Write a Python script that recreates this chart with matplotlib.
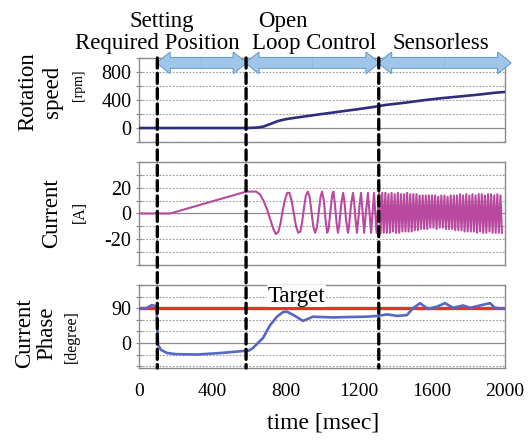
import matplotlib
matplotlib.use("Agg")
import matplotlib.pyplot as plt
from matplotlib.patches import FancyArrowPatch, ConnectionPatch

plt.rcParams['font.family'] = ['Liberation Serif', 'DejaVu Serif']

######################################################################
# DATA

# boundaries between the three control stages [msec]
stage_edges = [100, 585, 1310]
stage_spans = [(100, 585), (585, 1310), (1310, 2030)]

# rotation speed [rpm]
speed_t = [0, 585, 640, 680, 720, 760, 800, 850, 1000, 1100, 1200, 1280,
           1350, 1450, 1550, 1650, 1750, 1850, 1950, 2000]
speed_v = [0, 0, 5, 20, 60, 100, 125, 145, 200, 235, 270, 300,
           330, 360, 395, 425, 450, 475, 505, 515]

# current [A], start-up + open loop part
current_t = [0, 170, 561, 590, 640, 660, 680, 700, 718, 734, 748, 762,
             774, 786, 798, 810, 822, 834, 846, 858, 870, 882, 892, 902,
             912, 922, 932, 942, 952, 962, 972, 982, 992, 1000, 1010, 1020,
             1028, 1036, 1046, 1056, 1062, 1070, 1080, 1087, 1094, 1104, 1115,
             1122, 1132, 1142, 1148, 1158, 1169, 1176, 1184, 1191, 1200, 1206,
             1213, 1222, 1230, 1240, 1251, 1260, 1268, 1276, 1284, 1291, 1298]
current_i = [0, 0, 16, 17, 17, 15, 10, 3, -5, -12, -16, -14,
             -7, 3, 11, 16, 16, 10, 0, -10, -15, -14, -6, 5,
             14, 17, 13, 2, -10, -15, -11, 1, 13, 17, 10, -6,
             -15, -12, 2, 15, 17, 8, -8, -15, -9, 6, 16,
             10, -6, -15, -9, 6, 16, 8, -6, -15, -2, 8,
             16, 1, -15, 1, 16, 0, -15, 1, 16, 0, -15]

# current [A], sensorless part (peaks / troughs)
sensorless_t = [1312, 1320, 1329, 1337, 1346, 1354, 1363, 1371, 1380, 1388,
                1397, 1405, 1414, 1422, 1431, 1439, 1448, 1456, 1465, 1473,
                1482, 1490, 1499, 1507, 1516, 1524, 1533, 1541, 1550, 1558,
                1567, 1575, 1584, 1592, 1601, 1609, 1618, 1626, 1635, 1643,
                1652, 1660, 1669, 1677, 1686, 1694, 1703, 1711, 1720, 1728,
                1737, 1745, 1754, 1762, 1771, 1779, 1788, 1796, 1805, 1813,
                1822, 1830, 1839, 1847, 1856, 1864, 1873, 1881, 1890, 1898,
                1907, 1915, 1924, 1932, 1941, 1949, 1958, 1966, 1975, 1983]
sensorless_i = [16, -15, 16, -15, 16, -15, 15, -15, 16, -14,
                15, -15, 16, -15, 15, -14, 15, -14, 16, -14,
                15, -14, 15, -13, 15, -13, 14, -12, 14, -12,
                14, -12, 14, -11, 14, -11, 14, -12, 13, -11,
                14, -11, 14, -12, 13, -12, 14, -12, 14, -13,
                14, -13, 15, -13, 14, -14, 15, -14, 14, -14,
                15, -14, 14, -15, 15, -14, 15, -15, 14, -15,
                15, -14, 15, -15, 14, -15, 15, -15, 14, -15]

# current phase [degree]
phase_t = [0, 40, 70, 95, 104, 120, 153, 200, 317, 450, 568, 600, 623, 650,
           678, 716, 754, 787, 808, 852, 896, 951, 1005, 1060, 1137, 1246,
           1306, 1355, 1410, 1464, 1497, 1536, 1579, 1628, 1672, 1716, 1771,
           1809, 1863, 1918, 1945, 2000]
phase_deg = [88, 90, 98, 95, -5, -18, -26, -29, -30, -26, -21, -20, -13, 0,
             13, 46, 68, 80, 81, 70, 57, 68, 67, 66, 67, 68,
             70, 74, 70, 72, 90, 103, 88, 94, 103, 91, 97,
             91, 97, 103, 91, 88]
target_deg = 90

# axis grids and labels
speed_grid = [-200, 0, 200, 400, 600, 800, 1000]
speed_labels = ['', '0', '', '400', '', '800', '']
current_grid = [-40, -30, -20, -10, 0, 10, 20, 30, 40]
current_labels = ['', '', '-20', '', '0', '', '20', '', '']
phase_grid = [-60, -30, 0, 30, 60, 90, 120, 150]
phase_labels = ['', '', '0', '', '', '90', '', '']
time_ticks = [0, 400, 800, 1200, 1600, 2000]

######################################################################
# STYLE

C_SPEED = '#2e2d7f'
C_CURRENT = '#b9489f'
C_PHASE = '#5866c4'
C_TARGET = '#e5322b'
C_ARROW = '#9fc5e8'
C_ARROW_EDGE = '#5e97d0'
C_FRAME = '#8a8a8a'

fig = plt.figure(figsize=(5.31, 4.45), dpi=100)
ax_s = fig.add_axes([0.2618, 0.6809, 0.6893, 0.1888])
ax_c = fig.add_axes([0.2618, 0.4045, 0.6893, 0.2315])
ax_p = fig.add_axes([0.2618, 0.1730, 0.6893, 0.1865])


def style_panel(ax, ylim, grid, labels):
    ax.set_xlim(0, 2000)
    ax.set_ylim(*ylim)
    for g in grid:
        if g == 0:
            ax.axhline(g, color='#8c8c8c', lw=0.9, zorder=1)
        else:
            ax.axhline(g, color='#9a9a9a', lw=0.8, ls=(0, (1.5, 1.5)), zorder=1)
    ax.set_yticks(grid)
    ax.set_yticklabels(labels)
    ax.tick_params(axis='y', direction='inout', length=5, width=0.8,
                   color=C_FRAME, labelsize=14.5, pad=3)
    ax.tick_params(axis='x', length=0, labelbottom=False)
    for sp in ax.spines.values():
        sp.set_color(C_FRAME)
        sp.set_linewidth(1.0)


style_panel(ax_s, (-200, 1000), speed_grid, speed_labels)
style_panel(ax_c, (-40, 40), current_grid, current_labels)
style_panel(ax_p, (-65, 150), phase_grid, phase_labels)

ax_s.plot(speed_t, speed_v, color=C_SPEED, lw=1.9, zorder=3)
ax_c.plot(current_t + sensorless_t, current_i + sensorless_i,
          color=C_CURRENT, lw=1.5, zorder=3)
ax_p.axhline(target_deg, color=C_TARGET, lw=2.4, zorder=3)
ax_p.plot(phase_t, phase_deg, color=C_PHASE, lw=1.9, zorder=4)
ax_p.text(858, 107, 'Target', fontsize=16.5, ha='center', va='baseline',
          zorder=5, bbox=dict(fc='white', ec='none', pad=0.5))

ax_p.set_xticks(time_ticks)
ax_p.tick_params(axis='x', labelbottom=True, labelsize=14, pad=11)

######################################################################
# stage arrows above the speed panel (two halves each)

arrow_y = 930
arrow_style = 'simple,head_length=0.9,head_width=1.45,tail_width=0.72'
for a, b in stage_spans:
    mid = (a + b) / 2
    for ec, lw in ((C_ARROW_EDGE, 1.4), ('none', 0)):
        for end in (a, b):
            ax_s.add_patch(FancyArrowPatch(
                (mid, arrow_y), (end, arrow_y), arrowstyle=arrow_style,
                mutation_scale=10, fc=C_ARROW, ec=ec, lw=lw,
                shrinkA=0, shrinkB=0, clip_on=False, zorder=6))

# dashed stage boundaries through all panels
for t in stage_edges:
    fig.add_artist(ConnectionPatch(
        xyA=(t, 1000), coordsA=ax_s.transData,
        xyB=(t, -65), coordsB=ax_p.transData,
        color='black', lw=2.4, linestyle=(0, (3, 1.6)), zorder=8))

######################################################################
# texts

FS = 16.5
fig.text(162 / 531, 1 - 27 / 445, 'Setting', fontsize=FS, ha='center', va='baseline')
fig.text(157 / 531, 1 - 49 / 445, 'Required Position', fontsize=FS, ha='center', va='baseline')
fig.text(283 / 531, 1 - 27 / 445, 'Open', fontsize=FS, ha='center', va='baseline')
fig.text(314 / 531, 1 - 49 / 445, 'Loop Control', fontsize=FS, ha='center', va='baseline')
fig.text(441 / 531, 1 - 49 / 445, 'Sensorless', fontsize=FS, ha='center', va='baseline')

ylabels = [
    (28, 92, 'Rotation', FS), (53, 92, 'speed', FS), (79, 85, '[rpm]', 10),
    (52, 213, 'Current', FS), (80, 212, '[A]', 11.5),
    (25, 333, 'Current', FS), (47, 333, 'Phase', FS), (72, 337, '[degree]', 11.5),
]
for x, y, s, fs in ylabels:
    fig.text(x / 531, 1 - y / 445, s, fontsize=fs, rotation=90,
             ha='center', va='center')

fig.text(323 / 531, 1 - 423 / 445, 'time [msec]', fontsize=17,
         ha='center', va='center')

fig.savefig('out.png', dpi=100)
